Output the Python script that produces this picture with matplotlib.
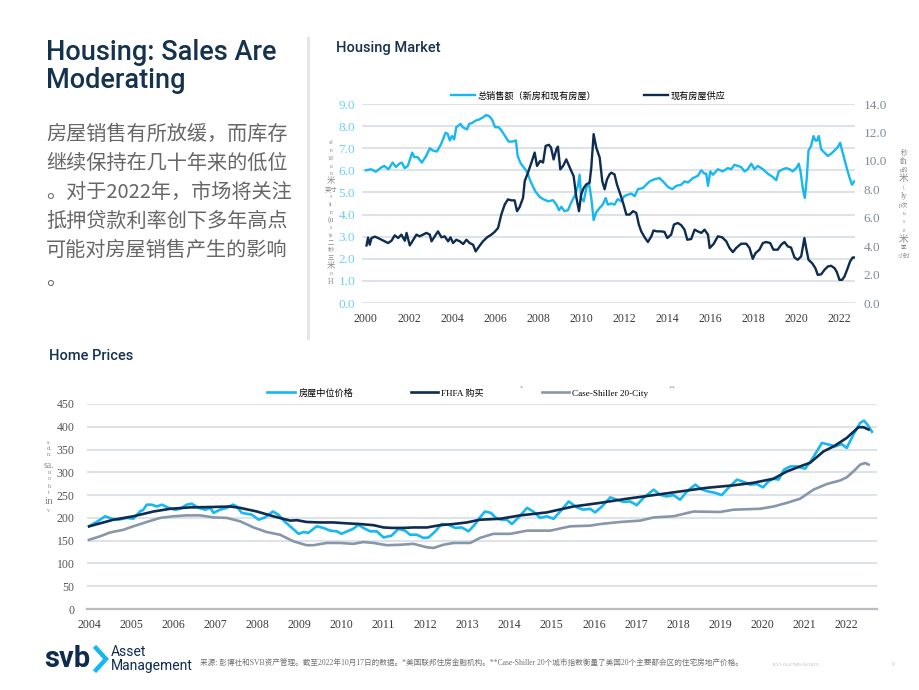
import matplotlib
matplotlib.use('Agg')
import numpy as np
import matplotlib.pyplot as plt
from matplotlib.lines import Line2D

plt.rcParams['font.family'] = ['Liberation Serif', 'Noto Sans CJK SC', 'DejaVu Sans']

# ---- data: housing market (top) ----
sales_t = [2000.0, 2000.23, 2000.46, 2000.7, 2000.85,
           2001.05, 2001.24, 2001.4, 2001.55, 2001.67, 2001.8, 2001.95,
           2002.15, 2002.25, 2002.4, 2002.6, 2002.8, 2002.97,
           2003.1, 2003.3, 2003.5, 2003.7, 2003.8, 2003.9,
           2004.0, 2004.1, 2004.2, 2004.4, 2004.5, 2004.7, 2004.8, 2004.95,
           2005.1, 2005.26, 2005.45, 2005.58, 2005.73, 2005.86,
           2006.0, 2006.17, 2006.3, 2006.5, 2006.63, 2006.8, 2006.97,
           2007.05, 2007.2, 2007.4, 2007.5, 2007.65, 2007.87,
           2008.07, 2008.23, 2008.46, 2008.69, 2008.85, 2008.97,
           2009.08, 2009.23, 2009.39, 2009.54, 2009.7, 2009.85, 2009.93,
           2010.0, 2010.12, 2010.24, 2010.36, 2010.47, 2010.58, 2010.7, 2010.86,
           2011.0, 2011.14, 2011.24, 2011.4, 2011.55, 2011.7, 2011.86,
           2012.0, 2012.17, 2012.33, 2012.48, 2012.64, 2012.87,
           2013.02, 2013.18, 2013.41, 2013.64, 2013.8,
           2014.03, 2014.23, 2014.42, 2014.65, 2014.8, 2014.96,
           2015.19, 2015.42, 2015.58, 2015.73, 2015.81, 2015.89,
           2016.0, 2016.12, 2016.35, 2016.58, 2016.81, 2016.97,
           2017.12, 2017.28, 2017.43, 2017.59, 2017.74, 2017.9,
           2018.05, 2018.21, 2018.44, 2018.67, 2018.9,
           2019.06, 2019.18, 2019.37, 2019.52, 2019.68, 2019.83, 2019.99,
           2020.11, 2020.19, 2020.3, 2020.39, 2020.48, 2020.56, 2020.68, 2020.79, 2020.88, 2020.96,
           2021.04, 2021.15, 2021.3, 2021.46, 2021.61, 2021.77, 2021.92,
           2022.03, 2022.12, 2022.23, 2022.38, 2022.49, 2022.58, 2022.69]
sales_v = [6.0, 6.05, 5.94, 6.12, 6.2,
           6.05, 6.35, 6.15, 6.3, 6.35, 6.1, 6.2,
           6.8, 6.6, 6.6, 6.35, 6.65, 7.0,
           6.9, 6.85, 7.2, 7.7, 7.65, 7.35,
           7.55, 7.4, 7.95, 8.1, 7.95, 7.85, 8.1, 8.15,
           8.25, 8.3, 8.4, 8.5, 8.45, 8.3,
           7.95, 7.95, 7.8, 7.5, 7.3, 7.3, 7.35,
           6.65, 6.3, 6.05, 5.9, 5.5, 5.05,
           4.8, 4.7, 4.6, 4.65, 4.45, 4.2,
           4.35, 4.15, 4.2, 4.55, 4.85, 5.3, 5.8,
           4.75, 4.6, 5.2, 5.45, 4.75, 3.75, 4.1, 4.3,
           4.45, 4.75, 4.45, 4.5, 4.45, 4.7, 4.6,
           4.83, 4.9, 4.95, 4.83, 5.15, 5.2,
           5.35, 5.5, 5.6, 5.65, 5.5,
           5.25, 5.15, 5.3, 5.35, 5.5, 5.45,
           5.65, 5.75, 6.0, 5.85, 5.85, 5.3,
           5.95, 5.8, 6.05, 5.95, 6.1, 6.05,
           6.25, 6.2, 6.15, 5.95, 6.05, 6.3,
           6.05, 6.2, 6.05, 5.85, 5.7,
           5.55, 5.95, 6.05, 6.1, 6.05, 5.95, 6.1,
           6.3, 5.95, 5.15, 4.75, 5.65, 6.9, 7.1, 7.55, 7.35, 7.35,
           7.55, 6.95, 6.8, 6.65, 6.75, 6.9, 7.05,
           7.25, 6.9, 6.5, 5.95, 5.6, 5.35, 5.5]

supply_t = [2000.03, 2000.1, 2000.18, 2000.26, 2000.42, 2000.57, 2000.73, 2000.88,
            2001.03, 2001.19, 2001.34, 2001.5, 2001.65, 2001.81, 2001.89,
            2002.04, 2002.2, 2002.35, 2002.5, 2002.66, 2002.81, 2002.97,
            2003.05, 2003.2, 2003.35, 2003.51, 2003.66, 2003.82, 2003.93,
            2004.05, 2004.2, 2004.36, 2004.52, 2004.67, 2004.82, 2004.98,
            2005.1, 2005.26, 2005.44, 2005.63, 2005.83, 2005.98,
            2006.14, 2006.29, 2006.45, 2006.6, 2006.76, 2006.91,
            2007.02, 2007.14, 2007.3, 2007.38, 2007.53, 2007.69, 2007.84, 2007.95,
            2008.1, 2008.23, 2008.35, 2008.5, 2008.6, 2008.72, 2008.85, 2008.92,
            2009.03, 2009.16, 2009.31, 2009.44, 2009.54, 2009.65, 2009.78, 2009.9,
            2010.0, 2010.12, 2010.24, 2010.39, 2010.47, 2010.58, 2010.7, 2010.86, 2010.98,
            2011.09, 2011.2, 2011.32, 2011.4, 2011.55, 2011.66, 2011.82, 2011.97,
            2012.1, 2012.25, 2012.41, 2012.56, 2012.68, 2012.79, 2012.95,
            2013.1, 2013.26, 2013.36, 2013.52, 2013.72, 2013.87,
            2014.0, 2014.18, 2014.31, 2014.49, 2014.65, 2014.8, 2014.93,
            2015.11, 2015.27, 2015.42, 2015.58, 2015.73, 2015.89, 2015.97,
            2016.15, 2016.35, 2016.55, 2016.74, 2016.89,
            2017.05, 2017.2, 2017.43, 2017.67, 2017.82, 2017.97,
            2018.1, 2018.28, 2018.44, 2018.59, 2018.78, 2018.93,
            2019.13, 2019.29, 2019.44, 2019.6, 2019.75, 2019.91,
            2020.06, 2020.22, 2020.37, 2020.45, 2020.56, 2020.73, 2020.88, 2020.99,
            2021.15, 2021.3, 2021.46, 2021.61, 2021.77, 2021.87,
            2022.0, 2022.12, 2022.23, 2022.38, 2022.49, 2022.61, 2022.69]
supply_v = [4.05, 4.6, 4.1, 4.57, 4.67, 4.57, 4.45, 4.34,
            4.22, 4.38, 4.76, 4.57, 4.81, 4.38, 4.93,
            4.05, 4.45, 4.81, 4.69, 4.81, 4.93, 4.81,
            4.34, 4.69, 5.04, 4.62, 4.69, 4.34, 4.62,
            4.22, 4.45, 4.34, 4.15, 4.45, 4.22, 4.1,
            3.63, 3.98, 4.34, 4.62, 4.81, 5.0,
            5.28, 6.22, 6.93, 7.29, 7.22, 7.22,
            6.46, 6.74, 7.4, 8.58, 9.17, 9.88, 10.58, 9.64,
            10.0, 9.88, 11.05, 11.13, 10.94, 10.1, 10.82, 11.0,
            9.4, 9.64, 10.1, 9.64, 9.29, 8.93, 7.4, 6.46,
            7.64, 8.1, 8.35, 8.46, 9.52, 11.88, 10.94, 10.23, 8.58,
            8.0, 8.7, 9.05, 9.17, 9.05, 8.35, 7.64, 6.93,
            6.22, 6.22, 6.46, 6.34, 5.52, 5.04, 4.62,
            4.29, 4.69, 5.1, 5.04, 5.04, 5.0,
            4.57, 4.81, 5.52, 5.63, 5.47, 5.16, 4.45,
            4.5, 5.16, 5.04, 4.93, 5.16, 4.81, 3.87,
            4.15, 4.69, 4.62, 4.34, 3.87,
            3.58, 3.87, 4.17, 4.17, 3.87, 3.11,
            3.51, 3.75, 4.22, 4.29, 4.22, 3.75,
            3.75, 4.1, 4.29, 3.98, 3.9, 3.2,
            3.04, 3.28, 4.57, 3.87, 3.04, 2.8, 2.45, 1.98,
            2.02, 2.33, 2.57, 2.62, 2.45, 2.2,
            1.63, 1.63, 1.86, 2.45, 2.92, 3.2, 3.2]

# ---- data: home prices (bottom) ----
median_t = [2004.0, 2004.18, 2004.38, 2004.54, 2004.7, 2004.9,
            2005.05, 2005.21, 2005.29, 2005.37, 2005.49, 2005.61, 2005.73, 2005.89,
            2006.04, 2006.16, 2006.32, 2006.44, 2006.6, 2006.76, 2006.88, 2006.96,
            2007.11, 2007.27, 2007.42, 2007.51, 2007.63, 2007.75, 2007.87,
            2008.03, 2008.18, 2008.37, 2008.5, 2008.64, 2008.78, 2008.98,
            2009.1, 2009.21, 2009.41, 2009.57, 2009.73, 2009.89,
            2010.0, 2010.13, 2010.28, 2010.4, 2010.52, 2010.68, 2010.84,
            2011.0, 2011.19, 2011.35, 2011.51, 2011.63, 2011.79, 2011.95,
            2012.07, 2012.23, 2012.38, 2012.54, 2012.7, 2012.86,
            2013.02, 2013.18, 2013.29, 2013.41, 2013.55, 2013.67, 2013.81, 2013.93,
            2014.05, 2014.21, 2014.41, 2014.56, 2014.72, 2014.88,
            2015.04, 2015.2, 2015.4, 2015.6, 2015.75, 2015.91,
            2016.03, 2016.19, 2016.39, 2016.55, 2016.7, 2016.86,
            2017.02, 2017.18, 2017.42, 2017.57, 2017.73, 2017.89,
            2018.05, 2018.21, 2018.41, 2018.57, 2018.72, 2018.88,
            2019.04, 2019.2, 2019.4, 2019.56, 2019.71, 2019.87,
            2020.02, 2020.15, 2020.27, 2020.39, 2020.52, 2020.67, 2020.82,
            2021.02, 2021.18, 2021.3, 2021.42, 2021.58, 2021.74, 2021.89,
            2022.01, 2022.17, 2022.33, 2022.42, 2022.5, 2022.61]
median_v = [181.5, 191, 203.5, 198, 196, 200,
            198, 214, 218, 229, 229, 225, 229, 222,
            218, 220, 229, 231, 222, 218, 222, 211,
            218, 222, 229, 225, 211, 209, 207,
            196, 201, 214, 207, 192.5, 181.5, 165,
            169, 167, 181.5, 178, 172, 170.5,
            165, 170.5, 176, 185, 178, 170.5, 170.5,
            157, 161, 176, 172, 163, 163, 156,
            157, 170.5, 186.5, 185, 178, 179,
            170.5, 186.5, 201, 214, 211, 200, 196, 196,
            186.5, 201, 222, 214, 200, 203.5,
            198, 214, 236, 223, 218, 220,
            212, 225, 245, 240, 235, 236,
            228, 244, 262, 251, 247, 250,
            240, 258, 273, 262, 258, 255,
            250, 266, 284, 279, 273, 274.5,
            267, 280, 286, 284, 306, 313, 313,
            308, 328, 346, 364.5, 361, 357, 362,
            353.5, 383, 408.5, 413.6, 405, 389]

fhfa_t = [2004.0, 2004.58, 2005.05, 2005.53, 2005.93, 2006.4, 2006.96,
          2007.35, 2007.59, 2007.99, 2008.38, 2008.78, 2008.94,
          2009.17, 2009.49, 2009.81, 2010.13, 2010.44, 2010.76,
          2011.0, 2011.19, 2011.47, 2011.71, 2012.03, 2012.34, 2012.66, 2012.98,
          2013.29, 2013.77, 2014.25, 2014.88, 2015.51, 2016.15, 2016.78,
          2017.42, 2018.05, 2018.68, 2019.32, 2019.79,
          2020.27, 2020.59, 2020.9, 2021.14, 2021.46, 2021.7,
          2022.01, 2022.29, 2022.41, 2022.53]
fhfa_v = [181.5, 196, 203.5, 214, 220, 223, 224,
          225, 222, 214, 203.5, 194, 195,
          191, 190, 190, 188, 186.5, 184,
          179, 178, 178, 179, 179, 184, 186.5, 190,
          196, 198, 205.5, 212, 225, 233, 242,
          250, 258, 266, 271.5, 277,
          286, 302, 313, 321, 346, 357,
          375.5, 399, 399, 394]

cs_t = [2004.0, 2004.26, 2004.5, 2004.82, 2005.05, 2005.37, 2005.69,
        2006.0, 2006.32, 2006.64, 2006.96, 2007.27, 2007.59, 2007.91,
        2008.22, 2008.54, 2008.86, 2009.17, 2009.33, 2009.65, 2009.97,
        2010.28, 2010.52, 2010.76, 2011.08, 2011.39, 2011.71,
        2012.03, 2012.19, 2012.42, 2012.66, 2013.06, 2013.29, 2013.61,
        2014.01, 2014.41, 2014.96, 2015.44, 2015.91, 2016.15, 2016.62,
        2017.1, 2017.42, 2017.89, 2018.37, 2019.0, 2019.32, 2019.95,
        2020.27, 2020.59, 2020.9, 2021.22, 2021.54, 2021.85,
        2022.01, 2022.17, 2022.33, 2022.45, 2022.53]
cs_v = [152, 159.5, 168, 174, 181.5, 191, 200,
        203.5, 205.5, 205.5, 201, 200, 192.5, 179,
        169, 163, 148.5, 140, 140, 145, 145,
        143, 147, 145, 140, 141, 143,
        135.5, 134, 141, 145, 145, 156, 165,
        165, 172, 172, 181.5, 183, 186.5, 191,
        194, 201, 203.5, 214, 213, 218, 220,
        225, 233, 242, 262, 274.5, 282,
        289, 302, 317, 320.5, 317]

top_years = list(range(2000, 2023, 2))
bottom_years = list(range(2004, 2023))

NAVY = '#0d2c50'
SKY = '#17b8f1'
SLATE = '#8797ab'
TITLE = '#15324e'
GRID = '#dde3e9'

W, H = 920, 690


def fx(x):
    return x / W


def fy(y):
    return 1 - y / H


CJK = ['Noto Sans CJK SC', 'DejaVu Sans']
SANS = ['Roboto', 'Liberation Sans', 'Noto Sans CJK SC']
SERIF = ['Liberation Serif', 'Noto Sans CJK SC']

fig = plt.figure(figsize=(9.2, 6.9), dpi=100)

# ---- left text panel ----
fig.text(fx(46), fy(52), 'Housing: Sales Are', family=SANS, fontsize=19.5,
         fontweight='medium', color=TITLE, va='center', ha='left')
fig.text(fx(46), fy(81), 'Moderating', family=SANS, fontsize=19.5,
         fontweight='medium', color=TITLE, va='center', ha='left')
body = ['房屋销售有所放缓，而库存', '继续保持在几十年来的低位', '。对于2022年，市场将关注',
        '抵押贷款利率创下多年高点', '可能对房屋销售产生的影响', '。']
for i, line in enumerate(body):
    fig.text(fx(46), fy(134 + 29 * i), line, family=CJK, fontsize=14.5,
             color='#666666', va='center', ha='left')
fig.add_artist(Line2D([fx(308), fx(308)], [fy(38), fy(338)], color='#e3e7ec', lw=2.2))

# ---- housing market ----
fig.text(fx(336), fy(48), 'Housing Market', family=SANS, fontsize=10.5,
         fontweight='medium', color=TITLE, va='center', ha='left')
ax1 = fig.add_axes([fx(362), fy(303), (855 - 362) / W, (303 - 104) / H])
ax2 = ax1.twinx()
l1, = ax1.plot(sales_t, sales_v, color=SKY, lw=1.7)
l2, = ax2.plot(supply_t, supply_v, color=NAVY, lw=1.7)
ax1.set_xlim(1999.82, 2022.72)
ax1.set_ylim(0, 9)
ax2.set_ylim(0, 14)
ax1.set_yticks(np.arange(0, 9.5, 1.0))
ax2.set_yticks(np.arange(0, 14.5, 2.0))
ax1.set_yticklabels(['%.1f' % v for v in np.arange(0, 9.5, 1.0)])
ax2.set_yticklabels(['%.1f' % v for v in np.arange(0, 14.5, 2.0)])
ax1.set_xticks(top_years)
ax1.set_xticklabels([str(y) for y in top_years])
ax1.grid(axis='y', color=GRID, lw=1.5)
ax1.set_axisbelow(True)
for a in (ax1, ax2):
    for s in a.spines.values():
        s.set_visible(False)
ax1.tick_params(axis='y', length=0, pad=5, labelcolor='#6dd0f7', labelsize=9.5)
ax2.tick_params(axis='y', length=0, pad=6, labelcolor='#7d8b99', labelsize=9.5)
ax1.tick_params(axis='x', length=0, pad=7, labelcolor='#3a3a3a', labelsize=8.5)
ax1.legend([l1, l2], ['总销售额（新房和现有房屋）', '现有房屋供应'], loc='center',
           bbox_to_anchor=(fx(588), fy(96)), bbox_transform=fig.transFigure,
           ncol=2, frameon=False, handlelength=2.6, handletextpad=0.3,
           columnspacing=5.2, prop={'family': CJK, 'size': 6.6})

# garbled vertical axis captions
left_cap = ['sJ', 'n', '训', 'u', 'u', '米', '英寸', 's', 'it', 'n', '(u', 's', 'le',
            '二', '秒', '三', '米', 'o', 'H']
left_size = [4.5, 4, 4, 4, 4, 6, 4.5, 4, 4.5, 4, 5.5, 4, 4.5, 4.5, 4.5, 4.5, 6, 4, 5.5]
for i, (c, s) in enumerate(zip(left_cap, left_size)):
    fig.text(fx(331), fy(143 + 7.7 * i), c, family=SERIF,
             fontsize=s, color='#8a8a8a', ha='center', va='center')
right_cap = ['秒', 'th', 'n的', '米', '(', 'ly', 'p次', 'u', 's', 'e', '米', '季', '小时']
right_size = [5, 7, 4, 7, 4, 6, 4.5, 4, 4, 4, 7, 4, 4.5]
for i, (c, s) in enumerate(zip(right_cap, right_size)):
    fig.text(fx(904), fy(153 + 8.6 * i), c, family=SERIF,
             fontsize=s, color='#8a8a8a', ha='center', va='center')

# ---- home prices ----
fig.text(fx(49), fy(356), 'Home Prices', family=SANS, fontsize=10.5,
         fontweight='medium', color=TITLE, va='center', ha='left')
ax3 = fig.add_axes([fx(87), fy(609), (877 - 87) / W, (609 - 404) / H])
m1, = ax3.plot(median_t, median_v, color=SKY, lw=1.9)
m3, = ax3.plot(cs_t, cs_v, color=SLATE, lw=1.9)
m2, = ax3.plot(fhfa_t, fhfa_v, color=NAVY, lw=1.9)
ax3.set_xlim(2003.95, 2022.73)
ax3.set_ylim(0, 450)
ax3.set_yticks(np.arange(0, 451, 50))
ax3.set_xticks(bottom_years)
ax3.set_xticklabels([str(y) for y in bottom_years])
ax3.grid(axis='y', color=GRID, lw=1.5)
ax3.set_axisbelow(True)
for k, s in ax3.spines.items():
    s.set_visible(k == 'bottom')
ax3.spines['bottom'].set_color('#b9bcc0')
ax3.spines['bottom'].set_linewidth(1.6)
ax3.tick_params(axis='y', length=0, pad=9, labelcolor='#555555', labelsize=8.5)
ax3.tick_params(axis='x', length=0, pad=7, labelcolor='#3a3a3a', labelsize=8.5)
ax3.legend([m1, m2, m3], ['房屋中位价格', 'FHFA 购买', 'Case-Shiller 20-City'], loc='center',
           bbox_to_anchor=(fx(458), fy(393)), bbox_transform=fig.transFigure,
           ncol=3, frameon=False, handlelength=3.0, handletextpad=0.35,
           columnspacing=6.3, prop={'family': SERIF, 'size': 6.6})
fig.text(fx(521), fy(388), '*', fontsize=5, color='#999999', ha='center', va='center')
fig.text(fx(672), fy(388), '**', fontsize=5, color='#999999', ha='center', va='center')

# tick labels in a serif face, as in the reference
for a in (ax1, ax2, ax3):
    for lab in a.get_xticklabels() + a.get_yticklabels():
        lab.set_family(SERIF)

bot_cap = ['s.', 'd.', 'n.', 'sa.', 'u', 'o', 'h', 't', 'in', 'v']
bot_size = [4.5, 5, 4.5, 7, 4.5, 4.5, 4.5, 4.5, 8, 4.5]
bot_y = [442, 448, 455, 465, 473, 479, 486, 492, 502, 510]
for c, s, y in zip(bot_cap, bot_size, bot_y):
    fig.text(fx(49), fy(y), c, fontsize=s, color='#8a8a8a', ha='center', va='center')

# ---- footer ----
fig.text(fx(44), fy(659), 'svb', family=SANS, fontsize=21, fontweight='bold',
         color=NAVY, ha='left', va='center')
fig.add_artist(Line2D([fx(96), fx(106), fx(96)], [fy(648), fy(659), fy(670)],
                      color=SKY, lw=3.2, solid_joinstyle='miter'))
fig.text(fx(111), fy(652), 'Asset', family=SANS, fontsize=10, color=NAVY,
         ha='left', va='center')
fig.text(fx(111), fy(666), 'Management', family=SANS, fontsize=10, color=NAVY,
         ha='left', va='center')
fig.text(fx(200), fy(664), '来源: 彭博社和SVB资产管理。截至2022年10月17日的数据。*美国联邦住房金融机构。'
         '**Case-Shiller 20个城市指数衡量了美国20个主要都会区的住宅房地产价格。',
         family=SERIF, fontsize=5.5, color='#707070', ha='left', va='center')
fig.text(fx(795), fy(665), '1122-0147MS-063023', fontsize=3.8, color='#bbbbbb',
         ha='center', va='center')
fig.text(fx(893), fy(665), '9', fontsize=4, color='#bbbbbb', ha='center', va='center')

fig.savefig('out.png', dpi=100)
